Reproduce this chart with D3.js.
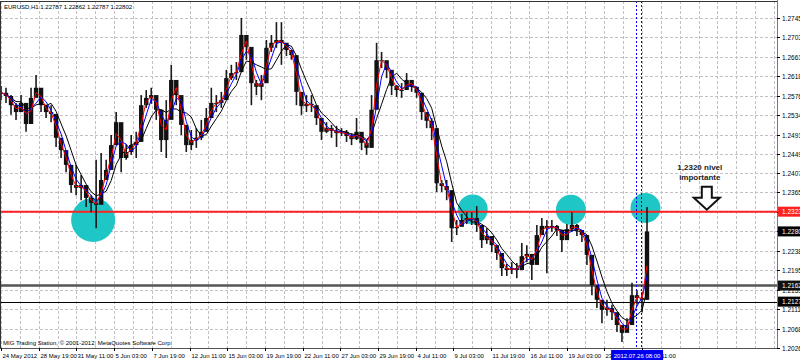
<!DOCTYPE html>
<html>
<head>
<meta charset="utf-8">
<script src="https://cdn.jsdelivr.net/npm/d3@7"></script>
<style>
  body { margin: 0; background: #fff; }
  text { font-family: "Liberation Sans", Arial, sans-serif; }
</style>
</head>
<body>
<div id="chart"></div>
<script>
// EURUSD H1, one candle here stands for ~8.5 hourly bars
var closes = [
  1.2582,1.2575,1.2555,1.2540,1.2560,1.2514,1.2571,1.2593,1.2555,1.2540,
  1.2536,1.2484,1.2457,1.2425,1.2381,1.2375,1.2381,1.2353,1.2342,1.2338,
  1.2392,1.2414,1.2468,1.2518,1.2440,1.2453,1.2468,1.2475,1.2555,1.2571,
  1.2577,1.2545,1.2479,1.2523,1.2610,1.2577,1.2512,1.2468,1.2479,1.2484,
  1.2497,1.2527,1.2560,1.2560,1.2566,1.2614,1.2625,1.2627,1.2708,1.2682,
  1.2603,1.2595,1.2603,1.2680,1.2691,1.2697,1.2691,1.2675,1.2664,1.2584,
  1.2553,1.2558,1.2555,1.2527,1.2497,1.2505,1.2499,1.2494,1.2497,1.2488,
  1.2481,1.2497,1.2473,1.2462,1.2545,1.2653,1.2653,1.2632,1.2597,1.2588,
  1.2588,1.2610,1.2595,1.2582,1.2540,1.2521,1.2505,1.2385,1.2379,1.2370,
  1.2287,1.2290,1.2305,1.2309,1.2309,1.2294,1.2261,1.2270,1.2250,1.2233,
  1.2200,1.2196,1.2200,1.2196,1.2226,1.2231,1.2207,1.2272,1.2292,1.2287,
  1.2292,1.2283,1.2261,1.2285,1.2294,1.2283,1.2272,1.2229,1.2163,1.2131,
  1.2109,1.2113,1.2104,1.2076,1.2059,1.2076,1.2141,1.2135,1.2131,1.2280
];
var highs = [
  1.2597,1.2593,1.2577,1.2560,1.2577,1.2540,1.2593,1.2621,1.2577,1.2555,
  1.2555,1.2505,1.2479,1.2447,1.2403,1.2425,1.2403,1.2370,1.2359,1.2436,
  1.2451,1.2436,1.2490,1.2540,1.2462,1.2470,1.2490,1.2497,1.2577,1.2588,
  1.2593,1.2566,1.2512,1.2566,1.2643,1.2599,1.2545,1.2490,1.2501,1.2505,
  1.2523,1.2549,1.2593,1.2577,1.2584,1.2632,1.2643,1.2649,1.2745,1.2708,
  1.2632,1.2610,1.2621,1.2697,1.2708,1.2736,1.2736,1.2688,1.2675,1.2621,
  1.2571,1.2577,1.2577,1.2545,1.2512,1.2518,1.2512,1.2510,1.2505,1.2501,
  1.2494,1.2527,1.2488,1.2479,1.2577,1.2691,1.2671,1.2647,1.2610,1.2599,
  1.2603,1.2625,1.2606,1.2593,1.2555,1.2534,1.2527,1.2457,1.2392,1.2392,
  1.2327,1.2305,1.2318,1.2322,1.2322,1.2335,1.2276,1.2287,1.2266,1.2248,
  1.2222,1.2209,1.2213,1.2211,1.2255,1.2250,1.2229,1.2294,1.2309,1.2305,
  1.2305,1.2294,1.2279,1.2296,1.2322,1.2296,1.2283,1.2250,1.2185,1.2148,
  1.2126,1.2131,1.2120,1.2096,1.2074,1.2091,1.2168,1.2152,1.2148,1.2333
];
var lows = [
  1.2566,1.2560,1.2534,1.2523,1.2545,1.2497,1.2553,1.2573,1.2540,1.2527,
  1.2518,1.2464,1.2440,1.2409,1.2364,1.2359,1.2348,1.2333,1.2322,1.2287,
  1.2375,1.2396,1.2447,1.2497,1.2409,1.2436,1.2447,1.2440,1.2534,1.2549,
  1.2558,1.2523,1.2453,1.2440,1.2588,1.2555,1.2490,1.2453,1.2457,1.2462,
  1.2479,1.2505,1.2545,1.2540,1.2549,1.2593,1.2610,1.2610,1.2664,1.2654,
  1.2555,1.2577,1.2566,1.2658,1.2671,1.2680,1.2643,1.2662,1.2654,1.2555,
  1.2534,1.2540,1.2540,1.2512,1.2479,1.2494,1.2484,1.2464,1.2488,1.2475,
  1.2468,1.2479,1.2457,1.2447,1.2512,1.2632,1.2636,1.2614,1.2577,1.2573,
  1.2571,1.2597,1.2584,1.2571,1.2523,1.2505,1.2479,1.2366,1.2366,1.2348,
  1.2257,1.2272,1.2292,1.2296,1.2294,1.2279,1.2244,1.2253,1.2235,1.2218,
  1.2183,1.2183,1.2187,1.2178,1.2213,1.2213,1.2174,1.2250,1.2279,1.2189,
  1.2279,1.2270,1.2235,1.2270,1.2279,1.2270,1.2257,1.2207,1.2141,1.2113,
  1.2080,1.2096,1.2087,1.2061,1.2039,1.2061,1.2120,1.2120,1.2104,1.2131
];
var barsPerCandle = 8.5;

// time axis: one label every 64 H1 bars
var timeLabels = ["24 May 2012", "28 May 19:00", "31 May 11:00", "5 Jun 03:00", "7 Jun 19:00",
  "12 Jun 11:00", "15 Jun 03:00", "19 Jun 19:00", "22 Jun 11:00", "27 Jun 03:00", "29 Jun 19:00",
  "4 Jul 11:00", "9 Jul 03:00", "11 Jul 19:00", "16 Jul 11:00", "19 Jul 03:00", "23 Jul 19:00",
  "26 Jul 11:00"];
var barsPerLabel = 64;

var priceTicks = [1.27450, 1.27030, 1.26610, 1.26180, 1.25760, 1.25340, 1.24910, 1.24490, 1.24070,
  1.23650, 1.23230, 1.22800, 1.22380, 1.21950, 1.21530, 1.21110, 1.20680, 1.20260];

// drawn objects
var redLevel = 1.23230;
var grayLevel = 1.21620;
var blackLevel = 1.21270;
var lastPrice = 1.22800;
var circleCandles = [18.4, 94.2, 113.8, 128.7];
var circlePrices = [1.2305, 1.2328, 1.2327, 1.2331];
var vlineBars = [1078, 1086];
var cursorLabel = "2012.07.26 08:00";
var noteBar = 1198;
var headerText = "EURUSD,H1  1.22787 1.22862 1.22787 1.22802";
var footerText = "MIG Trading Station, \u00a9 2001-2012, MetaQuotes Software Corp.";

var width = 800, height = 360;
var plotR = 777, plotT = 1, plotB = 348;

var x = d3.scaleLinear().domain([0, 1088]).range([1, 642]);
var y = d3.scaleLinear().domain([1.20260, 1.27820]).range([plotB, plotT]);
var lastBar = x.invert(plotR);

var svg = d3.select("#chart").append("svg")
  .attr("width", width)
  .attr("height", height)
  .style("display", "block");

svg.append("rect").attr("width", width).attr("height", height).attr("fill", "#fff");

// grid
var grid = svg.append("g").attr("stroke", "#c6bfc8").attr("stroke-dasharray", "3,2").attr("stroke-width", 1);
grid.selectAll(".hg").data(priceTicks).enter().append("line")
  .attr("x1", 0).attr("x2", plotR)
  .attr("y1", function(d) { return Math.round(y(d)) + 0.5; })
  .attr("y2", function(d) { return Math.round(y(d)) + 0.5; });
grid.selectAll(".vg").data(d3.range(0, lastBar, barsPerLabel / 2)).enter().append("line")
  .attr("y1", plotT).attr("y2", plotB)
  .attr("x1", function(d) { return Math.round(x(d)) + 0.5; })
  .attr("x2", function(d) { return Math.round(x(d)) + 0.5; });

// cyan circles
svg.selectAll(".circ").data(circleCandles).enter().append("circle")
  .attr("cx", function(d) { return x(d * barsPerCandle); })
  .attr("cy", function(d, i) { return y(circlePrices[i]); })
  .attr("r", function(d, i) { return i === 0 ? 22 : 15; })
  .attr("fill", "#1fc6c6");

// horizontal levels
svg.append("line").attr("x1", 0).attr("x2", plotR)
  .attr("y1", y(grayLevel)).attr("y2", y(grayLevel))
  .attr("stroke", "#555").attr("stroke-width", 2.5);
svg.append("line").attr("x1", 0).attr("x2", plotR)
  .attr("y1", Math.round(y(blackLevel)) + 0.5).attr("y2", Math.round(y(blackLevel)) + 0.5)
  .attr("stroke", "#000").attr("stroke-width", 1);
svg.append("line").attr("x1", 0).attr("x2", plotR)
  .attr("y1", y(redLevel)).attr("y2", y(redLevel))
  .attr("stroke", "#f22").attr("stroke-width", 2);

// vertical dotted lines
svg.selectAll(".vl").data(vlineBars).enter().append("line")
  .attr("x1", function(d) { return Math.round(x(d)) + 0.5; })
  .attr("x2", function(d) { return Math.round(x(d)) + 0.5; })
  .attr("y1", plotT).attr("y2", plotB)
  .attr("stroke", "#0000ff").attr("stroke-dasharray", "2,2");

// moving averages (drawn under the candles, as in the terminal)
function sma(arr, n) {
  return arr.map(function(d, i) { return d3.mean(arr.slice(Math.max(0, i - n + 1), i + 1)); });
}
var maLine = d3.line()
  .x(function(d, i) { return x(i * barsPerCandle); })
  .y(function(d) { return y(d); });
var maGroup = svg.append("g");

// candles
var candles = svg.append("g");
closes.forEach(function(c, i) {
  var cx = x(i * barsPerCandle);
  var open = i > 0 ? closes[i - 1] : c;
  candles.append("line")
    .attr("x1", cx).attr("x2", cx)
    .attr("y1", y(highs[i])).attr("y2", y(lows[i]))
    .attr("stroke", "#1a1a1a").attr("stroke-width", 1.6);
  candles.append("rect")
    .attr("x", cx - 2.2).attr("width", 4.4)
    .attr("y", y(Math.max(open, c)))
    .attr("height", Math.max(1, Math.abs(y(open) - y(c))))
    .attr("fill", "#111");
});

// MA lines on top, thin
[[5, "#000"], [3, "#0000ff"], [2, "#ff0000"]].forEach(function(m) {
  svg.append("path")
    .datum(sma(closes, m[0]))
    .attr("d", maLine)
    .attr("fill", "none")
    .attr("stroke", m[1])
    .attr("stroke-width", 1);
});

// frame
svg.append("line").attr("x1", 0).attr("x2", plotR).attr("y1", 1.5).attr("y2", 1.5).attr("stroke", "#333");
svg.append("line").attr("x1", 0.5).attr("x2", 0.5).attr("y1", plotT).attr("y2", plotB).attr("stroke", "#333");
svg.append("line").attr("x1", 0).attr("x2", plotR).attr("y1", plotB + 0.5).attr("y2", plotB + 0.5).attr("stroke", "#555");
svg.append("line").attr("x1", plotR + 0.5).attr("x2", plotR + 0.5).attr("y1", 0).attr("y2", plotB).attr("stroke", "#777");

// price axis
var yAxis = svg.append("g");
priceTicks.forEach(function(v) {
  var py = Math.round(y(v)) + 0.5;
  yAxis.append("line").attr("x1", plotR).attr("x2", plotR + 3).attr("y1", py).attr("y2", py).attr("stroke", "#000");
  yAxis.append("text").attr("x", plotR + 5).attr("y", py).attr("dy", "0.35em")
    .attr("font-size", "6.5px").attr("fill", "#000").text(v.toFixed(5));
});

// price markers on the axis
[[redLevel, "#f22"], [lastPrice, "#000"], [grayLevel, "#111"], [blackLevel, "#000"]].forEach(function(m) {
  var py = y(m[0]);
  svg.append("rect").attr("x", plotR + 1).attr("y", py - 5).attr("width", width - plotR).attr("height", 10).attr("fill", m[1]);
  svg.append("text").attr("x", plotR + 5).attr("y", py).attr("dy", "0.35em")
    .attr("font-size", "6.5px").attr("fill", "#fff").text(m[0].toFixed(5));
});

// time axis
var xAxis = svg.append("g");
timeLabels.forEach(function(t, i) {
  var px = Math.round(x(i * barsPerLabel)) + 0.5;
  xAxis.append("line").attr("x1", px).attr("x2", px).attr("y1", plotB).attr("y2", plotB + 3).attr("stroke", "#000");
  xAxis.append("text").attr("x", px + 1).attr("y", 358)
    .attr("font-size", "6px").attr("fill", "#000").text(t);
});
var cx0 = x(vlineBars[0]);
svg.append("rect").attr("x", cx0 - 25).attr("y", 350).attr("width", 52).attr("height", 10).attr("fill", "#0000ee");
svg.append("text").attr("x", cx0 + 1).attr("y", 358).attr("text-anchor", "middle")
  .attr("font-size", "6px").attr("fill", "#fff").text(cursorLabel);

// header and footer
svg.append("text").attr("x", 4).attr("y", 9).attr("font-size", "6px").attr("fill", "#000").text(headerText);
svg.append("text").attr("x", 3).attr("y", 345).attr("font-size", "6px").attr("fill", "#000").text(footerText);

// note with hollow arrow pointing at the level
var nx = x(noteBar), tipY = y(redLevel) - 2;
svg.append("text").attr("x", nx - 7).attr("y", tipY - 40).attr("text-anchor", "middle")
  .attr("font-size", "8px").attr("font-weight", "bold").attr("fill", "#222").text("1,2320 nivel");
svg.append("text").attr("x", nx - 7).attr("y", tipY - 30).attr("text-anchor", "middle")
  .attr("font-size", "8px").attr("font-weight", "bold").attr("fill", "#222").text("importante");
var arrow = d3.path();
arrow.moveTo(nx - 5, tipY - 23);
arrow.lineTo(nx + 5, tipY - 23);
arrow.lineTo(nx + 5, tipY - 12);
arrow.lineTo(nx + 13, tipY - 12);
arrow.lineTo(nx, tipY);
arrow.lineTo(nx - 13, tipY - 12);
arrow.lineTo(nx - 5, tipY - 12);
arrow.closePath();
svg.append("path").attr("d", arrow.toString())
  .attr("fill", "#fff").attr("stroke", "#111").attr("stroke-width", 2).attr("stroke-linejoin", "miter");
</script>
</body>
</html>
